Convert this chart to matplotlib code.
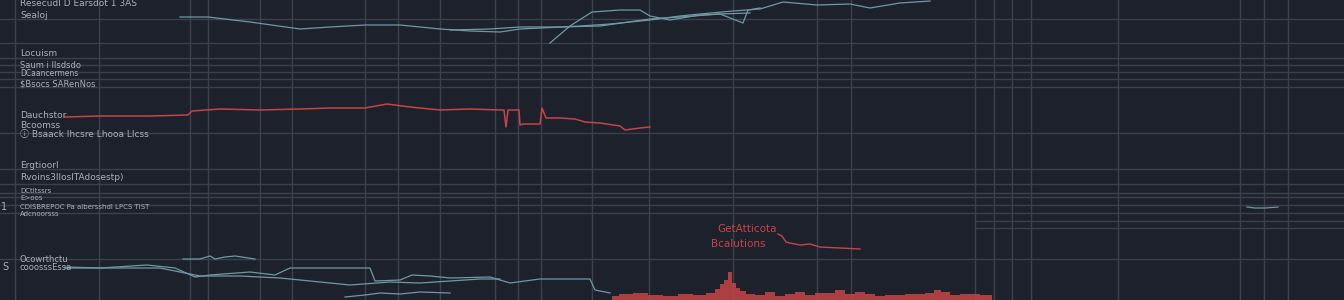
import matplotlib
matplotlib.use("Agg")
import matplotlib.pyplot as plt
import numpy as np

# =========================
# 数据（图上读出的近似值）
# =========================
grid_x = [15, 99, 190, 208, 260, 292, 365, 398, 440, 495, 518, 541, 592, 649,
          733, 817, 851, 975, 994, 1012, 1031, 1118, 1240, 1264, 1288]
grid_y = [19, 43, 58, 65, 72, 79, 87, 133, 169, 184, 193, 197, 205, 213, 259]
grid_y_partial = [221, 228]

teal_a_x = [180, 208, 250, 300, 330, 365, 400, 440, 470, 500, 520, 541, 580, 610,
            650, 680, 700, 733, 760, 783, 817, 850, 870, 900, 930]
teal_a_y = [17, 17, 22, 29, 27, 25, 25, 29, 31, 32, 29, 28, 26, 24,
            20, 16, 14, 11, 9, 2, 5, 4, 8, 3, 1]

teal_b_x = [550, 570, 592, 620, 640, 650, 670, 700, 720, 743, 748, 760]
teal_b_y = [43, 26, 12, 10, 10, 16, 20, 15, 14, 23, 10, 8]

teal_c_x = [450, 490, 520, 560, 600, 650, 680, 720, 750]
teal_c_y = [30, 29, 27, 27, 26, 19, 17, 14, 13]

red_mid_x = [65, 100, 150, 188, 192, 220, 260, 300, 330, 365, 387, 410, 440, 470,
             500, 504, 506, 508, 519, 520, 523, 540, 542, 546, 560, 575, 585, 600,
             620, 625, 640, 650]
red_mid_y = [117, 116, 116, 115, 111, 109, 110, 109, 108, 108, 104, 107, 110, 109,
             110, 110, 127, 110, 110, 125, 124, 124, 108, 118, 118, 119, 122, 123,
             126, 130, 128, 127]

red_low_x = [778, 782, 786, 790, 800, 810, 820, 840, 860]
red_low_y = [234, 236, 242, 243, 245, 244, 247, 248, 249]

red_bar_x = [612, 625, 640, 655, 670, 685, 700, 712, 718, 722, 726, 730, 734, 738,
             742, 750, 760, 770, 780, 790, 800, 810, 820, 830, 840, 850, 860, 870,
             880, 890, 900, 910, 920, 930, 937, 945, 955, 965, 975, 985, 992]
red_bar_y = [296, 294, 293, 295, 296, 294, 295, 293, 289, 284, 280, 272, 283, 288,
             291, 294, 295, 292, 296, 294, 292, 295, 293, 293, 290, 294, 292, 294,
             296, 295, 295, 294, 294, 293, 290, 292, 295, 294, 294, 295, 295]

teal_d_x = [65, 100, 147, 175, 195, 210, 250, 275, 290, 330, 370, 375, 400, 412,
            430, 450, 490, 510, 540, 590, 595, 610]
teal_d_y = [267, 268, 265, 268, 277, 275, 272, 275, 268, 268, 268, 281, 280, 275,
            276, 278, 277, 283, 279, 279, 290, 293]

teal_e_x = [65, 120, 160, 200, 240, 280, 320, 350, 390, 420, 450, 480, 500]
teal_e_y = [268, 268, 268, 276, 276, 278, 282, 285, 282, 283, 281, 279, 279]

teal_f_x = [183, 200, 210, 215, 225, 235, 255]
teal_f_y = [259, 259, 256, 259, 257, 256, 259]

teal_g_x = [345, 365, 380, 400, 420, 450]
teal_g_y = [297, 295, 293, 294, 292, 293]

teal_h_x = [1247, 1255, 1265, 1278]
teal_h_y = [207, 208, 208, 207]

labels = [
    (20, 4, "Resecudl D Earsdot 1 3AS", 6.5),
    (20, 15, "Sealoj", 6.5),
    (20, 54, "Locuism", 6.5),
    (20, 66, "Saum i Ilsdsdo", 6.0),
    (20, 74, "DCaancermens", 5.5),
    (20, 84, "$Bsocs SARenNos", 6.0),
    (20, 116, "Dauchstor", 6.5),
    (20, 125, "Bcoomss", 6.5),
    (20, 135, "\u24d8 Bsaack Ihcsre Lhooa Llcss", 6.5),
    (20, 166, "Ergtioorl", 6.5),
    (20, 177, "Rvoins3lloslTAdosestp)", 6.5),
    (20, 191, "DCtitssrs", 5.0),
    (20, 198.5, "E>oos", 5.0),
    (20, 207, "CDISBREPOC Pa albersshdl LPCS TIST", 5.0),
    (20, 214.5, "Adcnoorsss", 5.0),
    (20, 259, "Ocowrthctu", 6.0),
    (20, 268, "cooosssEssa", 6.0),
]
side_labels = [(1, 207, "1"), (2, 267, "S")]
red_labels = [(717, 229, "GetAtticota"), (711, 244, "Bcalutions")]

# =========================
# 画图
# =========================
BG = "#1d212c"
GRID = "#3a404d"
TEAL = "#6f98a6"
RED = "#c54545"
TXT = "#a9b1bd"
FAMILY = ["DejaVu Sans", "Noto Sans CJK SC"]

fig = plt.figure(figsize=(13.44, 3.0), dpi=100, facecolor=BG)
ax = fig.add_axes([0, 0, 1, 1])
ax.set_facecolor(BG)
ax.set_xlim(0, 1344)
ax.set_ylim(300, 0)
ax.axis("off")

for gx in grid_x:
    ax.axvline(gx, color=GRID, lw=1.0, zorder=1)
for gy in grid_y:
    ax.axhline(gy, color=GRID, lw=1.0, zorder=1)
for gy in grid_y_partial:
    ax.hlines(gy, 975, 1344, color=GRID, lw=1.0, zorder=1)

for xs, ys in [(teal_a_x, teal_a_y), (teal_b_x, teal_b_y), (teal_c_x, teal_c_y),
               (teal_d_x, teal_d_y), (teal_e_x, teal_e_y), (teal_f_x, teal_f_y),
               (teal_g_x, teal_g_y), (teal_h_x, teal_h_y)]:
    ax.plot(xs, ys, color=TEAL, lw=0.9, zorder=3)

ax.plot(red_mid_x, red_mid_y, color=RED, lw=1.1, zorder=3)
ax.plot(red_low_x, red_low_y, color=RED, lw=1.0, zorder=3)
ax.fill_between(red_bar_x, red_bar_y, 300, step="mid", color=RED, alpha=0.85,
                lw=0, zorder=3)

for x, y, s, fs in labels:
    ax.text(x, y, s, color=TXT, fontsize=fs, va="center", ha="left",
            family=FAMILY, zorder=4)
for x, y, s in side_labels:
    ax.text(x, y, s, color=TXT, fontsize=7, va="center", ha="left", zorder=4)
for x, y, s in red_labels:
    ax.text(x, y, s, color=RED, fontsize=7.5, va="center", ha="left", zorder=4)

plt.savefig("out.png", dpi=100, facecolor=BG)
plt.close()
